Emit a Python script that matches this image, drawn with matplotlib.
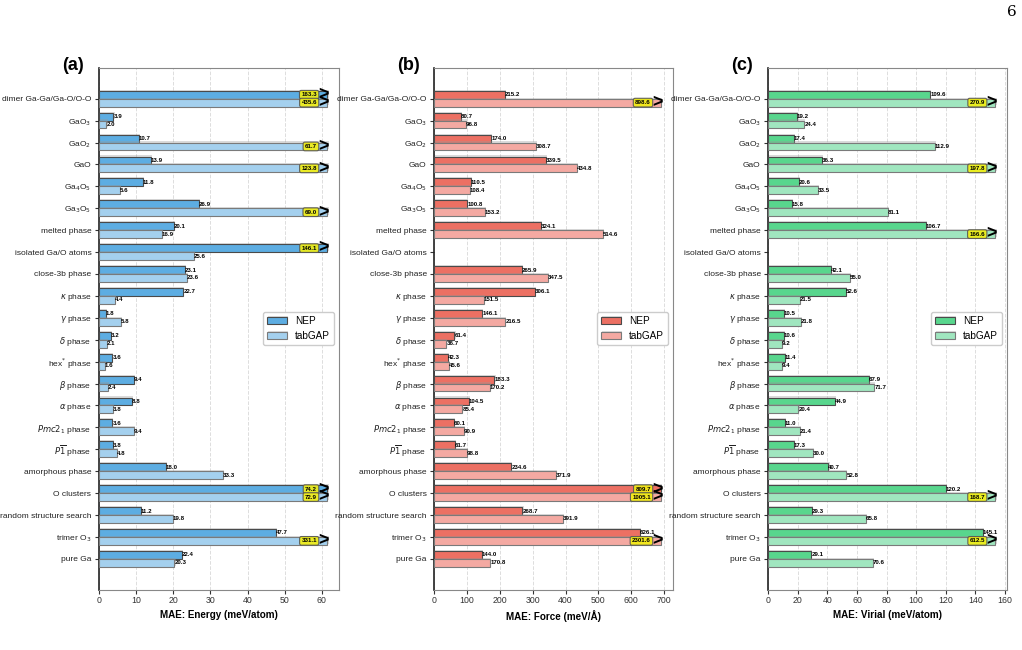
import numpy as np
import matplotlib
matplotlib.use("Agg")
import matplotlib.pyplot as plt
import matplotlib.patheffects as pe

plt.rcParams['font.family'] = ['Liberation Sans', 'DejaVu Sans']
plt.rcParams['mathtext.fontset'] = 'dejavusans'

categories = ["dimer Ga-Ga/Ga-O/O-O", "GaO$_3$", "GaO$_2$", "GaO", "Ga$_4$O$_5$", "Ga$_3$O$_5$",
              "melted phase", "isolated Ga/O atoms", "close-3b phase", r"$\kappa$ phase",
              r"$\gamma$ phase", r"$\delta$ phase", "hex$^{*}$ phase", r"$\beta$ phase",
              r"$\alpha$ phase", "$Pmc2_1$ phase", r"$P\overline{1}$ phase", "amorphous phase",
              "O clusters", "random structure search", "trimer O$_3$", "pure Ga"]

energy_nep = [163.3, 3.9, 10.7, 13.9, 11.8, 26.9, 20.1, 146.1, 23.1, 22.7, 1.8, 3.2, 3.6, 9.4,
              8.8, 3.6, 3.8, 18.0, 74.2, 11.2, 47.7, 22.4]
energy_tabgap = [435.6, 2.0, 61.7, 123.8, 5.6, 69.0, 16.9, 25.6, 23.6, 4.4, 5.8, 2.1, 1.6, 2.4,
                 3.8, 9.4, 4.8, 33.3, 72.9, 19.8, 331.1, 20.3]

force_nep = [215.2, 80.7, 174.0, 339.5, 110.5, 100.8, 324.1, np.nan, 265.9, 306.1, 146.1, 61.4,
             42.3, 183.3, 104.5, 60.1, 61.7, 234.6, 809.7, 268.7, 626.1, 144.0]
force_tabgap = [898.6, 96.8, 308.7, 434.8, 108.4, 153.2, 514.6, np.nan, 347.5, 151.5, 216.5, 36.7,
                45.6, 170.2, 85.4, 90.9, 98.8, 371.9, 1005.1, 391.9, 2301.6, 170.8]

virial_nep = [109.6, 19.2, 17.4, 36.3, 20.6, 15.8, 106.7, np.nan, 42.1, 52.6, 10.5, 10.6, 11.4,
              67.9, 44.9, 11.0, 17.3, 40.7, 120.2, 29.3, 145.1, 29.1]
virial_tabgap = [270.9, 24.4, 112.9, 197.8, 33.5, 81.1, 166.6, np.nan, 55.0, 21.5, 21.8, 9.2, 9.4,
                 71.7, 20.4, 21.4, 30.0, 52.8, 168.7, 65.8, 612.5, 70.6]

series_names = ["NEP", "tabGAP"]
panel_labels = ["(a)", "(b)", "(c)"]
xlabels = ["MAE: Energy (meV/atom)", "MAE: Force (meV/Å)", "MAE: Virial (meV/atom)"]
thresholds = [60, 675, 150]
xticks = [[0, 10, 20, 30, 40, 50, 60],
          [0, 100, 200, 300, 400, 500, 600, 700],
          [0, 20, 40, 60, 80, 100, 120, 140, 160]]
colors = [("#5DADE2", "#A4D0EE"), ("#EC7063", "#F4A9A2"), ("#58D68D", "#A0E6BF")]

panels = [(energy_nep, energy_tabgap), (force_nep, force_tabgap), (virial_nep, virial_tabgap)]

fig = plt.figure(figsize=(10.22, 6.5), dpi=100)
lefts = [99 / 1022, 434.3 / 1022, 768.3 / 1022]
widths = [240 / 1022, 238.5 / 1022, 238.7 / 1022]
bottom = 1 - 589.5 / 650
height = (589.5 - 68) / 650

n = len(categories)
y = np.arange(n)
h = 0.36
shadow = [pe.SimplePatchShadow(offset=(0.8, 0.8), shadow_rgbFace="#999999", alpha=0.35), pe.Normal()]

for k in range(3):
    ax = fig.add_axes([lefts[k], bottom, widths[k], height])
    thr = thresholds[k]
    cap = thr * 1.025
    for s, (vals, off) in enumerate(zip(panels[k], (-h / 2, h / 2))):
        vals = np.array(vals, dtype=float)
        shown = np.where(vals > thr, cap, vals)
        ec = "#4a4a4a" if s == 0 else "#7a7a7a"
        bars = ax.barh(y + off, shown, height=h, color=colors[k][s], edgecolor=ec, linewidth=0.8,
                       label=series_names[s], zorder=3)
        for b in bars:
            b.set_path_effects(shadow)
        for yi, v in zip(y, vals):
            if np.isnan(v):
                continue
            if v > thr:
                ax.text(thr * 0.978, yi + off, f"{v:.1f}", ha="right", va="center", fontsize=4.4,
                        fontweight="bold", zorder=6,
                        bbox=dict(boxstyle="round,pad=0.3", fc="#f2ee10", ec="#555555",
                                  lw=0.8, alpha=0.9))
                ax.text(cap * 1.006, yi + off, ">", ha="right", va="center", fontsize=13,
                        fontweight="bold", color="black", zorder=7)
            else:
                ax.text(v, yi + off, f"{v:.1f}", ha="left", va="center", fontsize=4.4,
                        fontweight="bold", zorder=5)
    ax.set_ylim(n - 1 + 1.4, -1.4)
    ax.set_xlim(0, thr * 1.077)
    ax.set_yticks(y)
    ax.set_yticklabels(categories, fontsize=6.0, color="#222222")
    ax.set_xticks(xticks[k])
    ax.tick_params(axis="x", labelsize=6.3, colors="#333333", length=3, pad=2)
    ax.tick_params(axis="y", length=3, color="#333333", pad=2.5)
    ax.grid(axis="x", linestyle="--", color="#dddddd", linewidth=0.7, zorder=0)
    ax.set_axisbelow(True)
    ax.set_xlabel(xlabels[k], fontsize=7.1, fontweight="bold", labelpad=3)
    for side in ["top", "right", "bottom"]:
        ax.spines[side].set_color("#888888")
    ax.spines["left"].set_color("#222222")
    ax.spines["left"].set_linewidth(1.2)
    ax.legend(loc="center right", fontsize=7.2, frameon=True, framealpha=1.0,
              edgecolor="#cccccc", fancybox=True, handlelength=2.0)
    fig.text(lefts[k] - 37 / 1022, 1 - 57 / 650, panel_labels[k], fontsize=13,
             fontweight="bold", ha="left", va="top")

fig.text(1012 / 1022, 1 - 5 / 650, "6", family="DejaVu Serif", fontsize=11, ha="center", va="top")

fig.savefig("out.png", dpi=100)
